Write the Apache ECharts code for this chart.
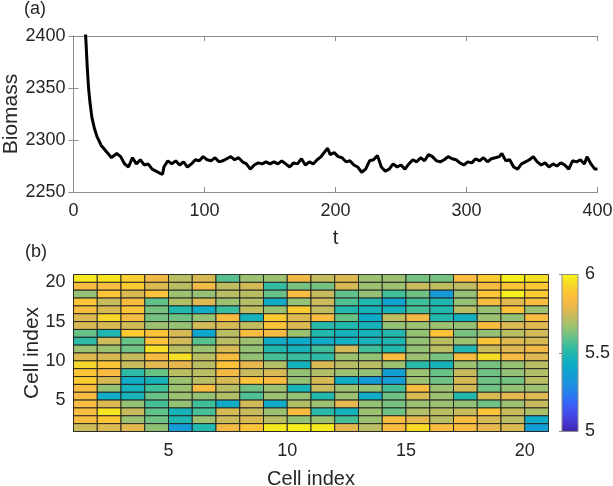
<!DOCTYPE html>
<html><head><meta charset="utf-8">
<script src="https://cdn.jsdelivr.net/npm/echarts@6/dist/echarts.min.js"></script>
<style>html,body{margin:0;padding:0;background:#fff}#c{width:613px;height:486px}</style>
</head><body><div id="c"></div>
<script>
// ---- panel (a): biomass time series ----
const timeT = [8.8,9.5,10.5,11.5,12.5,14,16,18,20,21,23,25,27,29,
  30,33,36,39,42,45,48,51,54,57,60,63,66,68,69,72,75,78,81,84,87,90,93,96,99,
  102,105,108,111,114,117,120,123,126,129,132,135,138,141,144,147,150,153,156,159,
  162,165,168,171,174,177,180,183,186,189,192,194,196,199,202,205,208,211,214,217,
  220,223,226,229,232,235,238,241,244,247,250,253,256,259,262,265,268,271,274,277,
  280,283,286,289,292,295,298,301,304,307,310,313,316,319,322,325,327,330,333,336,
  339,342,345,348,351,354,357,360,363,366,369,372,375,378,381,384,387,390,392,395,398,400];
const biomass = [2410,2395,2370,2350,2337,2322,2311,2303,2298,2295,2292,2289,2286,2283,
  2282,2287,2284,2277,2274,2283,2277,2281,2276,2277,2272,2270,2268,2267,2274,2280,2277,2280,2276,2279,2274,2277,2281,2280,2284,
  2281,2280,2283,2279,2280,2282,2284,2281,2283,2279,2277,2272,2276,2278,2277,2279,2277,2279,2277,2280,
  2277,2274,2278,2277,2282,2276,2279,2277,2281,2284,2289,2292,2286,2288,2284,2283,2279,2280,2276,2274,
  2269,2272,2280,2281,2285,2274,2270,2272,2277,2274,2276,2272,2277,2281,2279,2283,2280,2286,2284,2280,
  2279,2281,2284,2282,2281,2278,2276,2279,2278,2282,2280,2283,2279,2282,2283,2284,2287,2280,2281,2274,
  2272,2277,2279,2281,2284,2279,2276,2278,2274,2277,2275,2278,2276,2272,2280,2279,2281,2277,2284,2277,2272,2272];

// ---- panel (b): cell values, rows listed from top (row 20) to bottom (row 1), columns 1..20 ----
const heatRows = [
  [5.97,5.96,5.91,5.81,5.71,5.76,5.58,5.67,5.67,5.81,5.73,5.77,5.67,5.67,5.62,5.62,5.84,5.90,5.98,5.95],
  [5.84,5.84,5.90,5.77,5.71,5.82,5.72,5.75,5.53,5.62,5.62,5.76,5.67,5.67,5.73,5.72,5.72,5.84,5.88,5.89],
  [5.66,5.88,5.77,5.87,5.67,5.66,5.71,5.71,5.60,5.84,5.73,5.59,5.66,5.55,5.61,5.35,5.66,5.88,5.98,5.90],
  [5.88,5.73,5.84,5.59,5.70,5.77,5.67,5.70,5.42,5.66,5.74,5.57,5.50,5.38,5.55,5.49,5.66,5.84,5.78,5.84],
  [5.84,5.76,5.88,5.62,5.50,5.43,5.54,5.72,5.67,5.90,5.72,5.50,5.47,5.46,5.56,5.50,5.71,5.66,5.87,5.67],
  [5.77,5.93,5.83,5.62,5.61,5.66,5.84,5.46,5.90,5.77,5.84,5.60,5.41,5.72,5.82,5.50,5.45,5.67,5.66,5.84],
  [5.76,5.76,5.75,5.67,5.66,5.75,5.76,5.72,5.87,5.77,5.51,5.50,5.46,5.66,5.67,5.67,5.66,5.84,5.77,5.78],
  [5.60,5.49,5.90,5.87,5.76,5.40,5.71,5.84,5.83,5.67,5.50,5.46,5.47,5.50,5.66,5.87,5.62,5.66,5.71,5.75],
  [5.52,5.74,5.60,5.87,5.75,5.58,5.71,5.67,5.43,5.41,5.41,5.45,5.47,5.49,5.66,5.71,5.67,5.87,5.77,5.76],
  [5.67,5.67,5.61,5.95,5.71,5.67,5.76,5.66,5.50,5.47,5.55,5.75,5.55,5.50,5.66,5.71,5.49,5.74,5.78,5.82],
  [5.77,5.76,5.73,5.84,5.95,5.71,5.84,5.66,5.56,5.54,5.52,5.67,5.66,5.84,5.67,5.62,5.84,5.94,5.83,5.77],
  [5.93,5.88,5.73,5.78,5.79,5.71,5.87,5.79,5.70,5.46,5.76,5.71,5.71,5.67,5.51,5.47,5.67,5.62,5.66,5.71],
  [5.88,5.84,5.52,5.60,5.71,5.71,5.82,5.73,5.76,5.66,5.70,5.67,5.66,5.37,5.67,5.60,5.73,5.61,5.66,5.70],
  [5.90,5.76,5.43,5.47,5.67,5.71,5.76,5.87,5.84,5.66,5.76,5.43,5.35,5.36,5.67,5.61,5.76,5.61,5.62,5.71],
  [5.84,5.66,5.46,5.55,5.67,5.84,5.71,5.61,5.67,5.47,5.73,5.67,5.66,5.56,5.84,5.67,5.75,5.61,5.66,5.67],
  [5.84,5.43,5.47,5.60,5.67,5.66,5.70,5.57,5.67,5.66,5.50,5.67,5.43,5.61,5.76,5.67,5.50,5.76,5.79,5.77],
  [5.84,5.77,5.66,5.56,5.66,5.55,5.43,5.75,5.43,5.70,5.67,5.79,5.66,5.62,5.67,5.67,5.66,5.61,5.67,5.73],
  [5.84,5.96,5.73,5.59,5.47,5.56,5.76,5.73,5.67,5.84,5.51,5.46,5.67,5.61,5.70,5.71,5.73,5.87,5.73,5.69],
  [5.84,5.88,5.67,5.61,5.49,5.67,5.74,5.77,5.71,5.66,5.67,5.56,5.67,5.84,5.79,5.71,5.84,5.76,5.71,5.42],
  [5.74,5.77,5.78,5.65,5.35,5.50,5.82,5.87,5.97,5.98,5.97,5.78,5.71,5.84,5.94,5.84,5.84,5.79,5.77,5.36]
];
const cellTickLabels = [5, 10, 15, 20];
const colorRange = [5, 6];
const parulaColors = ['#3e26a8','#4433cb','#4545e4','#3f58f2','#326cf6','#2780ec','#1e90e0','#159cd7',
  '#0ea7cc','#12b0c0','#22b8ad','#3fbe9a','#68c286','#8dc276','#b2bf66','#d3ba58','#ecb84a','#fbbd3e',
  '#fccb32','#f6df24','#f8f818'];

const FONT = "'Liberation Sans', Arial, Helvetica, sans-serif";
const TXT = '#262626';
const AX = '#8c8c8c';

const lineData = timeT.map((t, i) => [t, biomass[i]]);
const heatData = [];
heatRows.forEach((row, k) => {
  const r = heatRows.length - k;
  row.forEach((v, j) => heatData.push([j + 1, r, v]));
});

const axisLineStyle = {show: true, lineStyle: {color: AX, width: 1}};
const lab = (extra) => Object.assign({color: TXT, fontFamily: FONT, fontSize: 18, formatter: v => String(v)}, extra || {});
const gridBase = {containLabel: false, outerBoundsMode: 'none'};

const chart = echarts.init(document.getElementById('c'), null, {renderer: 'canvas'});
chart.setOption({
  animation: false,
  backgroundColor: '#fff',
  graphic: [
    {type: 'text', left: 24, top: 0, style: {text: '(a)', font: '18px ' + FONT, fill: TXT}},
    {type: 'text', left: 25, top: 243, style: {text: '(b)', font: '18px ' + FONT, fill: TXT}}
  ],
  grid: [
    Object.assign({left: 73.5, top: 36, width: 524, height: 156}, gridBase),
    Object.assign({left: 73.5, top: 274.5, width: 475, height: 157}, gridBase),
    Object.assign({left: 562, top: 274.5, width: 16, height: 157}, gridBase)
  ],
  xAxis: [
    {type: 'value', gridIndex: 0, min: 0, max: 400, interval: 100,
      name: 't', nameLocation: 'middle', nameGap: 36, nameMoveOverlap: false,
      nameTextStyle: {color: TXT, fontFamily: FONT, fontSize: 20},
      axisLine: axisLineStyle, axisTick: {inside: true, length: 5, lineStyle: {color: AX}},
      axisLabel: lab({margin: 10}), splitLine: {show: false}},
    {type: 'value', gridIndex: 0, position: 'top', min: 0, max: 400, interval: 100,
      axisLine: axisLineStyle, axisTick: {inside: true, length: 5, lineStyle: {color: AX}},
      axisLabel: {show: false}, splitLine: {show: false}},
    {type: 'value', gridIndex: 1, min: 1, max: 21, interval: 1,
      name: 'Cell index', nameLocation: 'middle', nameGap: 38, nameMoveOverlap: false,
      nameTextStyle: {color: TXT, fontFamily: FONT, fontSize: 20},
      axisLine: axisLineStyle, axisTick: {show: false},
      axisLabel: lab({margin: 11, formatter: v => cellTickLabels.includes(v) ? String(v) : ''}),
      splitLine: {show: false}},
    {type: 'value', gridIndex: 2, min: 0, max: 1, show: false}
  ],
  yAxis: [
    {type: 'value', gridIndex: 0, min: 2250, max: 2400, interval: 50,
      name: 'Biomass', nameLocation: 'middle', nameGap: 52, nameMoveOverlap: false,
      nameTextStyle: {color: TXT, fontFamily: FONT, fontSize: 21},
      axisLine: axisLineStyle, axisTick: {inside: true, length: 5, lineStyle: {color: AX}},
      axisLabel: lab({margin: 8}), splitLine: {show: false}},
    {type: 'value', gridIndex: 0, position: 'right', min: 2250, max: 2400, interval: 50,
      axisLine: axisLineStyle, axisTick: {inside: true, length: 5, lineStyle: {color: AX}},
      axisLabel: {show: false}, splitLine: {show: false}},
    {type: 'value', gridIndex: 1, min: 1, max: 21, interval: 1,
      name: 'Cell index', nameLocation: 'middle', nameGap: 31, nameMoveOverlap: false,
      nameTextStyle: {color: TXT, fontFamily: FONT, fontSize: 21},
      axisLine: axisLineStyle, axisTick: {show: false},
      axisLabel: lab({margin: 8, formatter: v => cellTickLabels.includes(v) ? String(v) : ''}),
      splitLine: {show: false}},
    {type: 'value', gridIndex: 2, position: 'right', min: colorRange[0], max: colorRange[1], interval: 0.5,
      axisLine: {show: false}, axisTick: {inside: true, length: 3, lineStyle: {color: AX}},
      axisLabel: lab({margin: 7}), splitLine: {show: false}}
  ],
  visualMap: [{
    type: 'continuous', show: false, seriesIndex: 1, dimension: 2,
    min: colorRange[0], max: colorRange[1], inRange: {color: parulaColors}
  }],
  series: [
    {type: 'line', xAxisIndex: 0, yAxisIndex: 0, data: lineData, showSymbol: false,
      clip: true, lineStyle: {color: '#000', width: 3}, z: 3},
    {type: 'custom', xAxisIndex: 2, yAxisIndex: 2, data: heatData, encode: {x: 0, y: 1},
      renderItem: function (params, api) {
        const x = api.value(0), y = api.value(1);
        const a = api.coord([x, y + 1]), b = api.coord([x + 1, y]);
        return {type: 'rect', shape: {x: a[0], y: a[1], width: b[0] - a[0], height: b[1] - a[1]},
          style: {fill: api.visual('color'), stroke: '#1e1e1e', lineWidth: 0.9}};
      }},
    {type: 'custom', xAxisIndex: 3, yAxisIndex: 3, data: [[0, 1, colorRange[0], colorRange[1]]],
      encode: {x: [0, 1], y: [2, 3]},
      renderItem: function (params, api) {
        const a = api.coord([api.value(0), api.value(3)]);
        const b = api.coord([api.value(1), api.value(2)]);
        const n = parulaColors.length;
        return {type: 'rect', shape: {x: a[0], y: a[1], width: b[0] - a[0], height: b[1] - a[1]},
          style: {fill: {type: 'linear', x: 0, y: 1, x2: 0, y2: 0,
            colorStops: parulaColors.map((c, i) => ({offset: i / (n - 1), color: c}))},
            stroke: AX, lineWidth: 1}};
      }}
  ]
});
</script></body></html>
